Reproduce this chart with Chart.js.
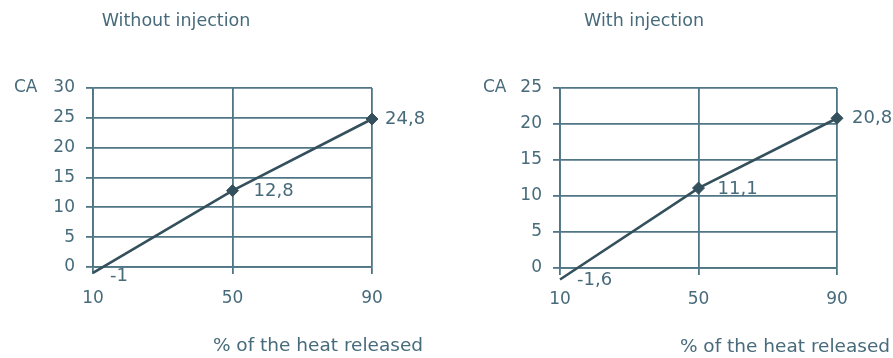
<!DOCTYPE html>
<html>
<head>
<meta charset="utf-8">
<script src="https://cdn.jsdelivr.net/npm/chart.js@4/dist/chart.umd.min.js"></script>
<style>
  html, body { margin: 0; padding: 0; background: #ffffff; }
  #wrap { position: relative; width: 893px; height: 358px; overflow: hidden; }
  canvas { position: absolute; top: 0; }
</style>
</head>
<body>
<div id="wrap">
  <canvas id="c1" width="446" height="358" style="left:0px"></canvas>
  <canvas id="c2" width="447" height="358" style="left:446px"></canvas>
</div>
<script>
// ---- data ----
const heatReleased = [10, 50, 90];            // % of the heat released (x)
const caWithoutInjection = [-1, 12.8, 24.8];  // CA values, left chart
const caWithInjection = [-1.6, 11.1, 20.8];   // CA values, right chart
const xTickValues = [10, 50, 90];
const titleLeft = 'Without injection';
const titleRight = 'With injection';
const yAxisLabel = 'CA';
const xAxisLabel = '% of the heat released';

// ---- style ----
const FONT = '"DejaVu Sans", "Liberation Sans", Arial, sans-serif';
const TEXT = '#476b7b';
const GRID = '#507686';
const LINE = '#33505c';

function fmt(v) { return String(v).replace('.', ','); }

const freeText = {
  id: 'freeText',
  afterDraw(chart, args, o) {
    const ctx = chart.ctx;
    ctx.save();
    ctx.fillStyle = TEXT;
    ctx.textBaseline = 'middle';
    ctx.font = '17.5px ' + FONT;
    ctx.textAlign = 'center';
    ctx.fillText(o.title, o.titleX, o.titleY);
    ctx.font = '17px ' + FONT;
    ctx.textAlign = 'left';
    ctx.fillText(o.yLabel, o.caX, chart.chartArea.top);
    ctx.font = '18.5px ' + FONT;
    ctx.textAlign = 'center';
    ctx.fillText(o.xLabel, o.xTitleX, o.xTitleY);
    const meta = chart.getDatasetMeta(0);
    const vals = chart.data.datasets[0].data;
    ctx.font = '18px ' + FONT;
    ctx.textAlign = 'left';
    meta.data.forEach((pt, i) => {
      const off = o.offsets[i];
      ctx.fillText(fmt(vals[i].y), pt.x + off[0], pt.y + off[1]);
    });
    ctx.restore();
  }
};

function makeChart(id, values, yMax, pad, yWidth, textOpts) {
  const pts = heatReleased.map((x, i) => ({ x: x, y: values[i] }));
  return new Chart(document.getElementById(id), {
    type: 'line',
    data: {
      datasets: [{
        data: pts,
        borderColor: LINE,
        borderWidth: 2.6,
        pointStyle: 'rectRot',
        pointRadius: [0, 6, 6],
        pointBackgroundColor: LINE,
        pointBorderColor: LINE,
        pointBorderWidth: 1,
        tension: 0,
        clip: false
      }]
    },
    options: {
      responsive: false,
      animation: false,
      devicePixelRatio: 1,
      layout: { padding: pad },
      plugins: {
        legend: { display: false },
        tooltip: { enabled: false },
        freeText: textOpts
      },
      scales: {
        x: {
          type: 'linear',
          min: 10, max: 90,
          afterBuildTicks: (s) => { s.ticks = xTickValues.map(v => ({ value: v })); },
          afterFit: (s) => { s.height = 45; },
          grid: { color: GRID, lineWidth: 1.8, tickLength: 7, tickColor: GRID, tickWidth: 1.8 },
          border: { display: true, color: GRID, width: 1.8 },
          ticks: { color: TEXT, font: { family: FONT, size: 17 }, padding: 14, maxRotation: 0 }
        },
        y: {
          min: 0, max: yMax,
          afterFit: (s) => { s.width = yWidth; },
          grid: { color: GRID, lineWidth: 1.8, tickLength: 7, tickColor: GRID, tickWidth: 1.8 },
          border: { display: true, color: GRID, width: 1.8 },
          ticks: { stepSize: 5, color: TEXT, font: { family: FONT, size: 17 }, padding: 11 }
        }
      }
    },
    plugins: [freeText]
  });
}

makeChart('c1', caWithoutInjection, 30,
  { left: 0, right: 74, top: 88, bottom: 46 }, 93,
  { title: titleLeft, titleX: 176, titleY: 21, yLabel: yAxisLabel, caX: 14,
    xLabel: xAxisLabel, xTitleX: 318, xTitleY: 346,
    offsets: [[17, 3], [21, 1], [13, 0]] });

makeChart('c2', caWithInjection, 25,
  { left: 0, right: 56, top: 88, bottom: 45 }, 114,
  { title: titleRight, titleX: 198, titleY: 21, yLabel: yAxisLabel, caX: 37,
    xLabel: xAxisLabel, xTitleX: 339, xTitleY: 347,
    offsets: [[17, 1], [19, 1], [15, 0]] });
</script>
</body>
</html>
